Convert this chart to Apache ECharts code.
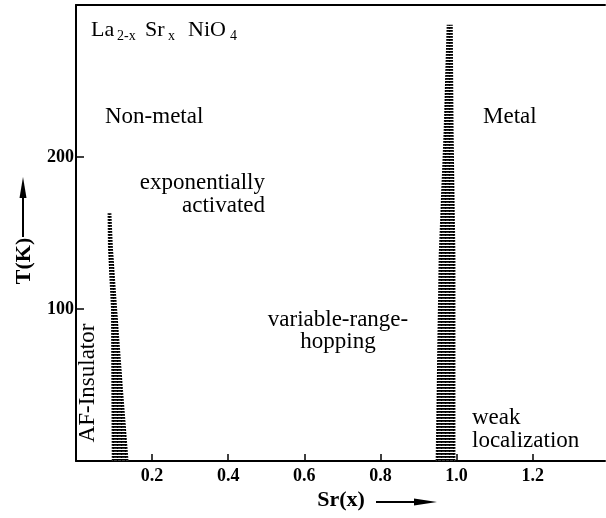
<!DOCTYPE html>
<html>
<head>
<meta charset="utf-8">
<script src="https://cdn.jsdelivr.net/npm/echarts@6/dist/echarts.min.js"></script>
<style>html,body{margin:0;padding:0;background:#fff;}#c{width:606px;height:518px;}</style>
</head>
<body>
<div id="c"></div>
<script>
// ---- data ----
const xTickLabels = ['0.2', '0.4', '0.6', '0.8', '1.0', '1.2'];
const yTickLabels = ['100', '200'];
const xRange = [0, 1.39];
const yRange = [0, 300];

// AF-insulator / non-metal boundary (hatched band near x ~ 0.1)
const afBoundaryT = [0, 45, 100, 140, 163];
const afBoundaryXLow = [0.094, 0.093, 0.092, 0.084, 0.083];
const afBoundaryXHigh = [0.138, 0.124, 0.108, 0.097, 0.093];

// non-metal / metal boundary (hatched band near x ~ 1.0)
const mBoundaryT = [0, 135, 217, 287];
const mBoundaryXLow = [0.945, 0.953, 0.966, 0.974];
const mBoundaryXHigh = [0.997, 0.997, 0.992, 0.990];

const regions = [
  { T: afBoundaryT, lo: afBoundaryXLow, hi: afBoundaryXHigh },
  { T: mBoundaryT, lo: mBoundaryXLow, hi: mBoundaryXHigh }
];

// ---- hatch pattern ----
const pc = document.createElement('canvas');
pc.width = 4; pc.height = 3;
const pctx = pc.getContext('2d');
pctx.fillStyle = '#fff'; pctx.fillRect(0, 0, 4, 3);
pctx.fillStyle = '#000'; pctx.fillRect(0, 0, 4, 1);
pctx.fillStyle = '#333'; pctx.fillRect(0, 1, 4, 1);
pctx.fillStyle = '#000'; pctx.fillRect(1, 0, 1, 2);
const hatch = { image: pc, repeat: 'repeat' };

const SERIF = '"Liberation Serif", "Times New Roman", serif';

function txt(text, x, y, size, opts) {
  opts = opts || {};
  return {
    type: 'text',
    x: x, y: y,
    rotation: opts.rotation || 0,
    style: {
      text: text, x: 0, y: 0,
      font: (opts.weight || 'normal') + ' ' + size + 'px ' + SERIF,
      fill: '#000',
      align: opts.align || 'left', textAlign: opts.align || 'left',
      verticalAlign: 'middle', textVerticalAlign: 'middle'
    },
    z: 10
  };
}

const xTickValues = xTickLabels.map(Number);
const yTickValues = yTickLabels.map(Number);

const chart = echarts.init(document.getElementById('c'), null, { renderer: 'canvas' });

const option = {
  animation: false,
  backgroundColor: '#fff',
  grid: { left: 76, top: 5, right: 1, bottom: 57, containLabel: false },
  xAxis: [{
    type: 'value', min: xRange[0], max: xRange[1],
    axisLine: { show: true, lineStyle: { color: '#000', width: 2 } },
    axisTick: { show: true, inside: true, length: 7, customValues: xTickValues, lineStyle: { color: '#000', width: 1.5 } },
    splitLine: { show: false },
    axisLabel: {
      margin: 6, customValues: xTickValues,
      color: '#000', fontFamily: SERIF, fontSize: 18, fontWeight: 'bold',
      formatter: function (v) { return v.toFixed(1); }
    }
  }, {
    type: 'value', position: 'top', min: xRange[0], max: xRange[1],
    axisLine: { show: true, onZero: false, lineStyle: { color: '#000', width: 2 } },
    axisTick: { show: false }, axisLabel: { show: false }, splitLine: { show: false }
  }],
  yAxis: {
    type: 'value', min: yRange[0], max: yRange[1],
    axisLine: { show: true, lineStyle: { color: '#000', width: 2 } },
    axisTick: { show: true, inside: true, length: 8, customValues: yTickValues, lineStyle: { color: '#000', width: 1.5 } },
    splitLine: { show: false },
    axisLabel: {
      margin: 2, customValues: yTickValues,
      color: '#000', fontFamily: SERIF, fontSize: 18, fontWeight: 'bold',
      formatter: function (v) { return String(Math.round(v)); }
    }
  },
  series: [{
    type: 'custom',
    coordinateSystem: 'cartesian2d',
    xAxisIndex: 0,
    data: regions.map(function (r) { return [r.lo[0], r.T[0]]; }),
    renderItem: function (params, api) {
      const r = regions[params.dataIndex];
      const pts = [];
      for (let i = 0; i < r.T.length; i++) pts.push(api.coord([r.lo[i], r.T[i]]));
      for (let i = r.T.length - 1; i >= 0; i--) pts.push(api.coord([r.hi[i], r.T[i]]));
      return {
        type: 'polygon',
        shape: { points: pts },
        style: { fill: hatch, stroke: null }
      };
    },
    silent: true
  }],
  graphic: [
    // title
    txt('La', 91, 30, 22),
    txt('2-x', 117, 36, 14),
    txt('Sr', 145, 30, 22),
    txt('x', 168, 36, 14),
    txt('NiO', 188, 30, 22),
    txt('4', 230, 36, 14),
    // region labels
    txt('Non-metal', 105, 117, 23),
    txt('exponentially', 265, 183, 23, { align: 'right' }),
    txt('activated', 265, 206, 23, { align: 'right' }),
    txt('Metal', 483, 117, 23),
    txt('variable-range-', 338, 320, 23, { align: 'center' }),
    txt('hopping', 338, 342, 23, { align: 'center' }),
    txt('weak', 472, 418, 23),
    txt('localization', 472, 441, 23),
    txt('AF-Insulator', 88, 383, 23, { align: 'center', rotation: Math.PI / 2 }),
    // axis names
    txt('Sr(x)', 341, 500, 22, { align: 'center', weight: 'bold' }),
    txt('T(K)', 24, 261, 22, { align: 'center', weight: 'bold', rotation: Math.PI / 2 }),
    // x arrow
    { type: 'line', shape: { x1: 376, y1: 502, x2: 420, y2: 502 }, style: { stroke: '#000', lineWidth: 2 }, z: 10 },
    { type: 'polygon', shape: { points: [[414, 498.5], [437, 502], [414, 505.5]] }, style: { fill: '#000' }, z: 10 },
    // y arrow
    { type: 'line', shape: { x1: 23, y1: 237, x2: 23, y2: 192 }, style: { stroke: '#000', lineWidth: 2 }, z: 10 },
    { type: 'polygon', shape: { points: [[19.5, 198], [23, 177], [26.5, 198]] }, style: { fill: '#000' }, z: 10 }
  ]
};
chart.setOption(option);
</script>
</body>
</html>
